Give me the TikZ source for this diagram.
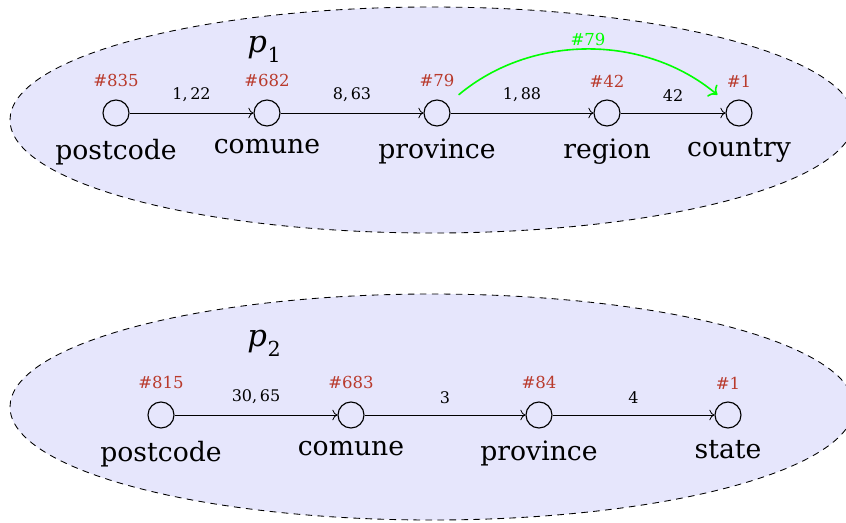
\documentclass[tikz,border=0pt]{standalone}
\usepackage{fontspec}
\setmainfont{DejaVu Serif}
\usetikzlibrary{positioning,arrows.meta}
\definecolor{idred}{RGB}{185,58,44}
\definecolor{bgfill}{RGB}{230,230,252}
\begin{document}
\begin{tikzpicture}[x=0.75pt,y=-0.75pt,
  cnode/.style={circle,draw,line width=0.85pt,minimum size=19.5pt,inner sep=0pt},
  lvl/.style={font=\fontsize{20}{24}\selectfont,inner sep=0pt},
  idl/.style={font=\fontsize{12.4}{14}\selectfont,text=idred,inner sep=0pt},
  wl/.style={font=\fontsize{12}{14}\selectfont,inner sep=0pt},
  conn/.style={-{To[scale=1.3]},line width=0.6pt},
  jump/.style={-{To[scale=1.3]},line width=1.2pt,green,shorten <=11pt,shorten >=11pt},
  group/.style={draw,dash pattern=on 5pt off 4pt,fill=bgfill,line width=0.65pt},
  pl/.style={font=\fontsize{23}{26}\selectfont,inner sep=0pt,anchor=base west}]
\useasboundingbox (0,0) rectangle (846,522);
% groups
\draw[group] (432,120) ellipse [x radius=422,y radius=113];
\draw[group] (432,407) ellipse [x radius=422,y radius=113];
% titles
\node[pl] (p1) at (247,52) {\itshape p\kern0.5pt\raisebox{-8.2pt}{\fontsize{15.5}{16}\upshape\selectfont 1}};
\node[pl] (p2) at (247,346) {\itshape p\kern0.5pt\raisebox{-8.2pt}{\fontsize{15.5}{16}\upshape\selectfont 2}};
% row 1
\node[cnode] (a1) at (116,113) {};
\node[cnode] (a2) at (267,113) {};
\node[cnode] (a3) at (437,113) {};
\node[cnode] (a4) at (607,113) {};
\node[cnode] (a5) at (739,113) {};
\node[lvl,below=9pt of a1] (la1) {postcode};
\node[lvl,below=9pt of a2] (la2) {comune};
\node[lvl,below=9pt of a3] (la3) {province};
\node[lvl,below=9pt of a4] (la4) {region};
\node[lvl,below=9pt of a5] (la5) {country};
\node[idl,above=9pt of a1] (ia1) {\#835};
\node[idl,above=9pt of a2] (ia2) {\#682};
\node[idl,above=9pt of a3] (ia3) {\#79};
\node[idl,above=9pt of a4] (ia4) {\#42};
\node[idl,above=9pt of a5] (ia5) {\#1};
\draw[conn] (a1) -- node[wl,midway,above=8pt] (wa1) {1,\,22} (a2);
\draw[conn] (a2) -- node[wl,midway,above=8pt] (wa2) {8,\,63} (a3);
\draw[conn] (a3) -- node[wl,midway,above=8pt] (wa3) {1,\,88} (a4);
\draw[conn] (a4) -- node[wl,midway,above=8pt] (wa4) {42} (a5);
\draw[jump] (a3) to[bend left=40] node[idl,text=green,midway,above=3.5pt] (g1) {\#79} (a5);
% row 2
\node[cnode] (b1) at (161,415) {};
\node[cnode] (b2) at (351,415) {};
\node[cnode] (b3) at (539,415) {};
\node[cnode] (b4) at (728,415) {};
\node[lvl,below=9pt of b1] (lb1) {postcode};
\node[lvl,below=9pt of b2] (lb2) {comune};
\node[lvl,below=9pt of b3] (lb3) {province};
\node[lvl,below=9pt of b4] (lb4) {state};
\node[idl,above=9pt of b1] (ib1) {\#815};
\node[idl,above=9pt of b2] (ib2) {\#683};
\node[idl,above=9pt of b3] (ib3) {\#84};
\node[idl,above=9pt of b4] (ib4) {\#1};
\draw[conn] (b1) -- node[wl,midway,above=8pt] (wb1) {30,\,65} (b2);
\draw[conn] (b2) -- node[wl,midway,above=8pt] (wb2) {3} (b3);
\draw[conn] (b3) -- node[wl,midway,above=8pt] (wb3) {4} (b4);
\end{tikzpicture}
\end{document}
